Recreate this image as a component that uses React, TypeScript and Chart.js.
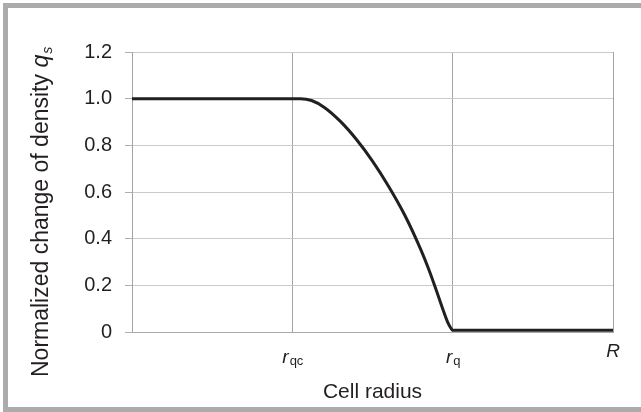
import { useEffect, useRef } from 'react';
import { Chart, registerables } from 'chart.js';

Chart.register(...registerables);

// ---- data ----
const curveX = [0, 1.05, 1.12, 1.2, 1.3, 1.4, 1.5, 1.6, 1.7, 1.8, 1.85, 1.9, 1.94, 1.97, 1.99, 2.0, 3.0];
const curveY = [1, 1, 0.992, 0.9625, 0.9025, 0.825, 0.7325, 0.625, 0.5025, 0.355, 0.27, 0.175, 0.095, 0.04, 0.015, 0.007, 0.007];
const xTickValues = [1, 2, 3];
const xTickMain = ['r', 'r', 'R'];
const xTickSub = ['qc', 'q', ''];
const yTickValues = [0, 0.2, 0.4, 0.6, 0.8, 1.0, 1.2];
const xTitle = 'Cell radius';
const yTitleMain = 'Normalized change of density ';
const yTitleVar = 'q';
const yTitleSub = 's';

const FONT = "'Liberation Sans', Arial, Helvetica, sans-serif";
const TEXT = '#231f20';

const labelPlugin = {
  id: 'customLabels',
  afterDraw(chart: any) {
    const ctx = chart.ctx as CanvasRenderingContext2D;
    const xs = chart.scales.x;
    const area = chart.chartArea;
    ctx.save();
    ctx.fillStyle = TEXT;
    ctx.textBaseline = 'alphabetic';
    ctx.textAlign = 'left';
    xTickValues.forEach((v, i) => {
      const px = xs.getPixelForValue(v);
      const main = xTickMain[i];
      const sub = xTickSub[i];
      ctx.font = `italic 19px ${FONT}`;
      const wm = ctx.measureText(main).width;
      ctx.font = `13px ${FONT}`;
      const ws = sub ? ctx.measureText(sub).width : 0;
      const start = px - (wm + ws) / 2;
      const base = sub ? area.bottom + 31 : area.bottom + 25;
      ctx.font = `italic 19px ${FONT}`;
      ctx.fillText(main, start, base);
      if (sub) {
        ctx.font = `13px ${FONT}`;
        ctx.fillText(sub, start + wm + 1, base + 1.5);
      }
    });
    // x title
    ctx.font = `21px ${FONT}`;
    ctx.textAlign = 'center';
    ctx.fillText(xTitle, (area.left + area.right) / 2, area.bottom + 66);
    // y title (rotated)
    ctx.translate(40, area.bottom + 45);
    ctx.rotate(-Math.PI / 2);
    ctx.textAlign = 'left';
    ctx.font = `23px ${FONT}`;
    ctx.fillText(yTitleMain, 0, 0);
    let off = ctx.measureText(yTitleMain).width;
    ctx.font = `italic 23px ${FONT}`;
    ctx.fillText(yTitleVar, off, 0);
    off += ctx.measureText(yTitleVar).width;
    ctx.font = `italic 14px ${FONT}`;
    ctx.fillText(yTitleSub, off + 1, 4);
    ctx.restore();
  },
};

export default function App() {
  const ref = useRef<HTMLCanvasElement>(null);
  useEffect(() => {
    const canvas = ref.current!;
    const chart = new Chart(canvas, {
      type: 'line',
      data: {
        datasets: [
          {
            data: curveX.map((x, i) => ({ x, y: curveY[i] })),
            borderColor: '#231f20',
            borderWidth: 3,
            pointRadius: 0,
            cubicInterpolationMode: 'monotone',
            fill: false,
          },
        ],
      },
      options: {
        animation: false,
        responsive: false,
        devicePixelRatio: 1,
        layout: { padding: { top: 44, right: 28, left: 0, bottom: 0 } },
        plugins: { legend: { display: false }, tooltip: { enabled: false } },
        scales: {
          x: {
            type: 'linear',
            min: 0,
            max: 3,
            afterBuildTicks: (scale: any) => {
              scale.ticks = [0, ...xTickValues].map((v) => ({ value: v }));
            },
            ticks: { display: false },
            grid: { color: '#a3a3a3', lineWidth: 1, drawTicks: false },
            border: { display: true, color: '#a8a8a8', width: 1 },
            afterFit: (scale: any) => {
              scale.height = 75;
            },
          },
          y: {
            type: 'linear',
            min: 0,
            max: 1.2,
            afterBuildTicks: (scale: any) => {
              scale.ticks = yTickValues.map((v) => ({ value: v }));
            },
            ticks: {
              padding: 13,
              color: TEXT,
              font: { family: FONT, size: 20 },
              callback: (v: any) => (Number(v) === 0 ? '0' : Number(v).toFixed(1)),
            },
            grid: { color: '#cacaca', lineWidth: 1, tickLength: 7, tickColor: '#b0b0b0' },
            border: { display: true, color: '#a3a3a3', width: 1 },
            afterFit: (scale: any) => {
              scale.width = 124;
            },
          },
        },
      },
      plugins: [labelPlugin],
    } as any);
    return () => chart.destroy();
  }, []);

  return (
    <div style={{ position: 'fixed', left: 0, top: 0, width: 641, height: 412, background: '#fff', overflow: 'hidden' }}>
      <div
        style={{
          position: 'absolute',
          left: 3,
          top: 3,
          width: 700,
          height: 399,
          borderTop: '5px solid #ababab',
          borderLeft: '5px solid #ababab',
          borderBottom: '5px solid #ababab',
        }}
      />
      <canvas ref={ref} width={633} height={399} style={{ position: 'absolute', left: 8, top: 8, width: 633, height: 399 }} />
    </div>
  );
}
